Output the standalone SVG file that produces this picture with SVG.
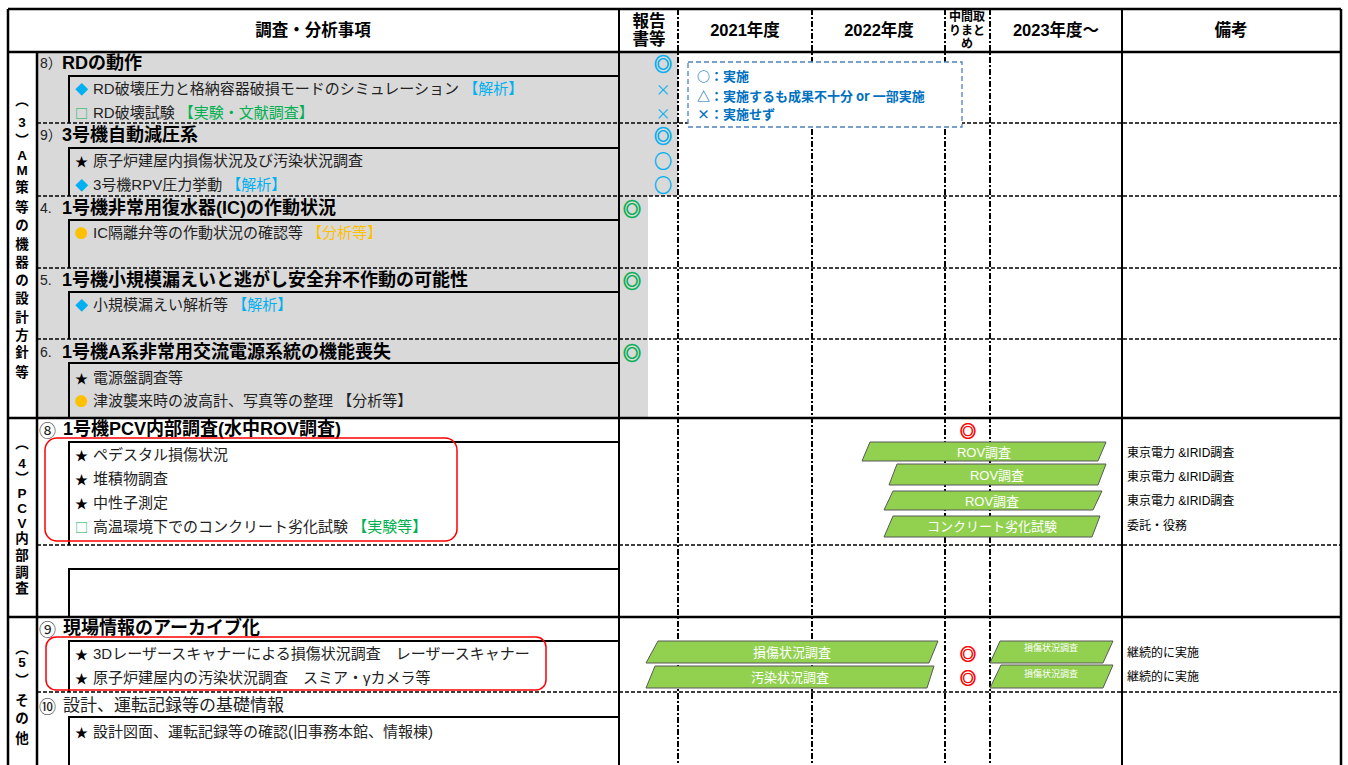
<svg xmlns="http://www.w3.org/2000/svg" width="1348" height="765" viewBox="0 0 1348 765">
<style>
text{font-family:"Liberation Sans","Noto Sans CJK JP",sans-serif;dominant-baseline:central;fill:#000}
.hd{font-size:16.5px;font-weight:700;text-anchor:middle}
.hs{font-size:12px;font-weight:700;text-anchor:middle}
.sec{font-size:13.5px;font-weight:700;text-anchor:middle}
.num{font-size:14px;fill:#222}
.cn{font-family:"Noto Sans CJK JP",sans-serif;font-size:17px;fill:#222}
.ttl{font-size:18px;font-weight:700}
.ttr{font-size:17px;fill:#222}
.it{font-size:15px;fill:#222}
.mk{font-family:"Noto Sans CJK JP",sans-serif;font-size:13px}
.blue{fill:#00b0f0}
.green{fill:#00b050}
.orange{fill:#ffc000}
.sym{font-family:"Noto Sans CJK JP",sans-serif;font-size:18px;font-weight:700;text-anchor:middle;stroke-width:0.7}
.symx{font-family:"Noto Sans CJK JP",sans-serif;font-size:15px;text-anchor:middle;fill:#00b0f0}
.sb{fill:#00b0f0;stroke:#00b0f0}
.sg{fill:#00b050;stroke:#00b050}
.sr{fill:#ff0000;stroke:#ff0000;font-size:16px}
.solid{stroke:#000;stroke-width:2;fill:none}
.thick{stroke:#000;stroke-width:2.5;fill:none}
.dash{stroke:#000;stroke-width:1.6;stroke-dasharray:4 2;fill:none}
.dd{stroke:#000;stroke-width:2;stroke-dasharray:6 2 2 2;fill:none}
.bar{fill:#92d050;stroke:#595959;stroke-width:1}
.bt{font-size:13px;fill:#fff;text-anchor:middle}
.bs{font-size:9px;fill:#fff;text-anchor:middle}
.rm{font-size:12px}
.lg{font-family:"Noto Sans CJK JP",sans-serif;font-size:13px;font-weight:700;fill:#0070c0}
.hl{fill:none;stroke:#ff0000;stroke-width:1.5}
</style>

<g id="backgrounds">
<rect x="37" y="52" width="641" height="144" fill="#d9d9d9"/>
<rect x="37" y="196" width="611" height="222" fill="#d9d9d9"/>
</g>

<g id="grid">
<line class="dd" x1="678" y1="9" x2="678" y2="765"/>
<line class="dd" x1="812" y1="9" x2="812" y2="765"/>
<line class="dd" x1="945" y1="9" x2="945" y2="765"/>
<line class="dd" x1="990" y1="9" x2="990" y2="765"/>
<line class="dash" x1="37" y1="123" x2="1341" y2="123"/>
<line class="dash" x1="37" y1="196" x2="1341" y2="196"/>
<line class="dash" x1="37" y1="268" x2="1341" y2="268"/>
<line class="dash" x1="37" y1="339" x2="1341" y2="339"/>
<line class="dash" x1="37" y1="545" x2="1341" y2="545"/>
<line class="dash" x1="37" y1="692" x2="1341" y2="692"/>
<line class="thick" x1="8" y1="9" x2="1341" y2="9"/>
<line class="thick" x1="8" y1="52" x2="1341" y2="52"/>
<line class="thick" x1="8" y1="418" x2="1341" y2="418"/>
<line class="thick" x1="8" y1="617" x2="1341" y2="617"/>
<line class="thick" x1="8" y1="9" x2="8" y2="765"/>
<line class="thick" x1="1341" y1="9" x2="1341" y2="765"/>
<line class="thick" x1="37" y1="52" x2="37" y2="765"/>
<line class="solid" x1="619" y1="9" x2="619" y2="765"/>
<line class="solid" x1="1122" y1="9" x2="1122" y2="765"/>
<path class="solid" d="M619 76H69V123"/>
<path class="solid" d="M619 148H69V196"/>
<path class="solid" d="M619 220H69V268"/>
<path class="solid" d="M619 292H69V339"/>
<path class="solid" d="M619 363H69V418"/>
<path class="solid" d="M619 442H69V545"/>
<path class="solid" d="M619 569H69V617"/>
<path class="solid" d="M619 641H69V692"/>
<path class="solid" d="M619 717H69V765"/>
</g>

<g id="header">
<text class="hd" x="313" y="30">調査・分析事項</text>
<text class="hd" x="649" y="21">報告</text>
<text class="hd" x="649" y="39">書等</text>
<text class="hd" x="745" y="30">2021年度</text>
<text class="hd" x="879" y="30">2022年度</text>
<text class="hs" x="967" y="17">中間取</text>
<text class="hs" x="967" y="31">りまと</text>
<text class="hs" x="967" y="44">め</text>
<text class="hd" x="1056" y="30">2023年度～</text>
<text class="hd" x="1231" y="30">備考</text>
</g>

<g id="section3-label">
<text class="sec"><tspan x="22" y="100">︵</tspan><tspan x="22" y="122">3</tspan><tspan x="22" y="140">︶</tspan><tspan x="22" y="155">A</tspan><tspan x="22" y="170">M</tspan><tspan x="22" y="187">策</tspan><tspan x="22" y="207">等</tspan><tspan x="22" y="225">の</tspan><tspan x="22" y="244">機</tspan><tspan x="22" y="262">器</tspan><tspan x="22" y="280">の</tspan><tspan x="22" y="298">設</tspan><tspan x="22" y="317">計</tspan><tspan x="22" y="335">方</tspan><tspan x="22" y="352">針</tspan><tspan x="22" y="372">等</tspan></text>
</g>

<g id="row-rd">
<text class="num" x="40" y="63">8）</text>
<text class="ttl" x="62" y="63">RDの動作</text>
<text class="mk blue" x="75" y="88">◆</text>
<text class="it" x="93" y="88">RD破壊圧力と格納容器破損モードのシミュレーション <tspan class="blue">【解析】</tspan></text>
<text class="mk green" x="75" y="112">□</text>
<text class="it" x="93" y="112">RD破壊試験 <tspan class="green">【実験・文献調査】</tspan></text>
<text class="sym sb" x="663" y="63">◎</text>
<text class="symx" x="663" y="88">×</text>
<text class="symx" x="663" y="112">×</text>
</g>

<g id="row-adsv">
<text class="num" x="40" y="135">9）</text>
<text class="ttl" x="62" y="135">3号機自動減圧系</text>
<text class="mk" x="75" y="160">★</text>
<text class="it" x="93" y="160">原子炉建屋内損傷状況及び汚染状況調査</text>
<text class="mk blue" x="75" y="184">◆</text>
<text class="it" x="93" y="184">3号機RPV圧力挙動 <tspan class="blue">【解析】</tspan></text>
<text class="sym sb" x="663" y="135">◎</text>
<text class="sym sb" x="663" y="160" style="stroke-width:0.4">○</text>
<text class="sym sb" x="663" y="184" style="stroke-width:0.4">○</text>
</g>

<g id="row-ic">
<text class="num" x="40" y="208">4.</text>
<text class="ttl" x="62" y="208">1号機非常用復水器(IC)の作動状況</text>
<text class="mk orange" x="75" y="232">●</text>
<text class="it" x="93" y="232">IC隔離弁等の作動状況の確認等 <tspan class="orange">【分析等】</tspan></text>
<text class="sym sg" x="632" y="208">◎</text>
</g>

<g id="row-srv">
<text class="num" x="40" y="280">5.</text>
<text class="ttl" x="62" y="280">1号機小規模漏えいと逃がし安全弁不作動の可能性</text>
<text class="mk blue" x="75" y="304">◆</text>
<text class="it" x="93" y="304">小規模漏えい解析等 <tspan class="blue">【解析】</tspan></text>
<text class="sym sg" x="632" y="280">◎</text>
</g>

<g id="row-ac">
<text class="num" x="40" y="352">6.</text>
<text class="ttl" x="62" y="352">1号機A系非常用交流電源系統の機能喪失</text>
<text class="mk" x="75" y="377">★</text>
<text class="it" x="93" y="377">電源盤調査等</text>
<text class="mk orange" x="75" y="400">●</text>
<text class="it" x="93" y="400">津波襲来時の波高計、写真等の整理 【分析等】</text>
<text class="sym sg" x="632" y="352">◎</text>
</g>

<g id="legend">
<rect x="688" y="62" width="274" height="65" fill="#fff" stroke="#4f81bd" stroke-width="1.3" stroke-dasharray="5 3"/>
<text class="lg" x="697" y="75">○：実施</text>
<text class="lg" x="697" y="95">△：実施するも成果不十分 or 一部実施</text>
<text class="lg" x="697" y="113">×：実施せず</text>
</g>

<g id="section4-label">
<text class="sec"><tspan x="22" y="443">︵</tspan><tspan x="22" y="463">4</tspan><tspan x="22" y="478">︶</tspan><tspan x="22" y="493">P</tspan><tspan x="22" y="508">C</tspan><tspan x="22" y="523">V</tspan><tspan x="22" y="538">内</tspan><tspan x="22" y="555">部</tspan><tspan x="22" y="572">調</tspan><tspan x="22" y="588">査</tspan></text>
</g>

<g id="row-pcv">
<text class="cn" x="39" y="429">⑧</text>
<text class="ttl" x="63" y="429">1号機PCV内部調査(水中ROV調査)</text>
<text class="mk" x="75" y="454">★</text>
<text class="it" x="93" y="454">ペデスタル損傷状況</text>
<text class="mk" x="75" y="478">★</text>
<text class="it" x="93" y="478">堆積物調査</text>
<text class="mk" x="75" y="502">★</text>
<text class="it" x="93" y="502">中性子測定</text>
<text class="mk green" x="75" y="526">□</text>
<text class="it" x="93" y="526">高温環境下でのコンクリート劣化試験 <tspan class="green">【実験等】</tspan></text>
<rect class="hl" x="45" y="438" width="412" height="103" rx="12"/>
<text class="sym sr" x="968" y="430">◎</text>
<polygon class="bar" points="870,442 1106,442 1098,461 862,461"/>
<text class="bt" x="984" y="452">ROV調査</text>
<polygon class="bar" points="897,464 1106,464 1098,485 889,485"/>
<text class="bt" x="997" y="475">ROV調査</text>
<polygon class="bar" points="893,491 1102,491 1093,510 884,510"/>
<text class="bt" x="992" y="501">ROV調査</text>
<polygon class="bar" points="893,516 1100,516 1092,537 884,537"/>
<text class="bt" x="992" y="526">コンクリート劣化試験</text>
<text class="rm" x="1127" y="453">東京電力 &amp;IRID調査</text>
<text class="rm" x="1127" y="477">東京電力 &amp;IRID調査</text>
<text class="rm" x="1127" y="501">東京電力 &amp;IRID調査</text>
<text class="rm" x="1127" y="526">委託・役務</text>
</g>

<g id="section5-label">
<text class="sec"><tspan x="22" y="648">︵</tspan><tspan x="22" y="662">5</tspan><tspan x="22" y="680">︶</tspan><tspan x="22" y="700">そ</tspan><tspan x="22" y="718">の</tspan><tspan x="22" y="738">他</tspan></text>
</g>

<g id="row-archive">
<text class="cn" x="39" y="628">⑨</text>
<text class="ttl" x="63" y="628">現場情報のアーカイブ化</text>
<text class="mk" x="75" y="653">★</text>
<text class="it" x="93" y="653">3Dレーザースキャナーによる損傷状況調査　レーザースキャナー</text>
<text class="mk" x="75" y="677">★</text>
<text class="it" x="93" y="677">原子炉建屋内の汚染状況調査　スミア・γカメラ等</text>
<rect class="hl" x="46" y="637" width="500" height="53" rx="10"/>
<polygon class="bar" points="658,641 938,641 929,663 646,663"/>
<text class="bt" x="792" y="652">損傷状況調査</text>
<polygon class="bar" points="655,666 934,666 927,688 646,688"/>
<text class="bt" x="790" y="677">汚染状況調査</text>
<text class="sym sr" x="968" y="653">◎</text>
<text class="sym sr" x="968" y="677">◎</text>
<polygon class="bar" points="1000,641 1113,641 1103,663 990,663"/>
<text class="bs" x="1051" y="648">損傷状況調査</text>
<polygon class="bar" points="1001,665 1113,665 1103,688 990,688"/>
<text class="bs" x="1051" y="674">損傷状況調査</text>
<text class="rm" x="1127" y="653">継続的に実施</text>
<text class="rm" x="1127" y="677">継続的に実施</text>
</g>

<g id="row-basic">
<text class="cn" x="39" y="705">⑩</text>
<text class="ttr" x="63" y="705">設計、運転記録等の基礎情報</text>
<text class="mk" x="75" y="731">★</text>
<text class="it" x="93" y="731">設計図面、運転記録等の確認(旧事務本館、情報棟)</text>
</g>

<g id="connectors"></g>
</svg>
